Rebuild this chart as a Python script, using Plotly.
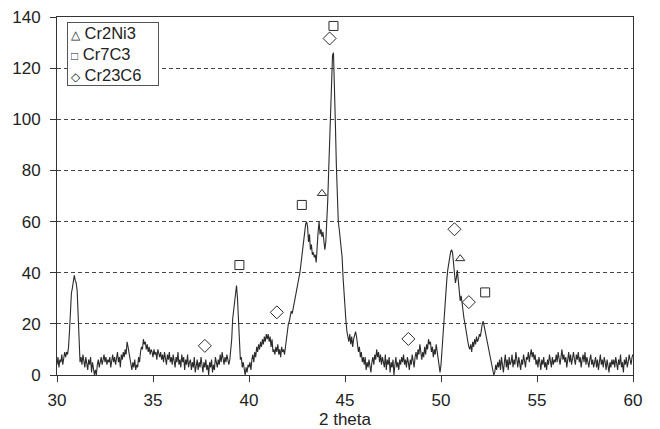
import numpy as np
import plotly.graph_objects as go

theta_start = 30.0
theta_step = 0.05
intensity_30 = [4, 7, 3, 6, 5, 8, 4, 6, 9, 7, 9, 8, 11, 17, 25, 32, 34, 36, 39, 37]
intensity_31 = [36, 33, 24, 12, 5, 7, 4, 8, 6, 3, 7, 5, 2, 6, 4, 7, 1, 5, 3, 0]
intensity_32 = [2, 0, 4, 6, 3, 5, 7, 4, 6, 8, 5, 7, 4, 6, 5, 7, 3, 6, 8, 5]
intensity_33 = [7, 4, 6, 9, 5, 7, 3, 8, 6, 9, 7, 10, 8, 13, 11, 9, 6, 4, 2, 5]
intensity_34 = [3, 6, 2, 4, 3, 7, 5, 9, 11, 10, 14, 12, 13, 10, 12, 9, 11, 8, 10, 9]
intensity_35 = [7, 10, 8, 9, 6, 10, 8, 7, 9, 6, 8, 5, 9, 7, 4, 8, 6, 9, 5, 7]
intensity_36 = [4, 8, 6, 3, 7, 5, 9, 4, 6, 3, 8, 5, 7, 2, 6, 4, 8, 3, 5, 6]
intensity_37 = [2, 5, 3, 7, 1, 4, 6, 2, 5, 3, 7, 4, 1, 5, 3, 6, 2, 4, 0, 5]
intensity_38 = [3, 6, 1, 4, 2, 7, 5, 3, 6, 4, 8, 5, 9, 6, 4, 7, 5, 8, 6, 4]
intensity_39 = [6, 9, 14, 22, 26, 29, 33, 35, 30, 22, 13, 6, 7, 3, 5, 1, 0, 3, 1, 4]
intensity_40 = [3, 5, 2, 6, 8, 5, 9, 7, 11, 9, 12, 10, 13, 11, 14, 12, 15, 13, 16, 14]
intensity_41 = [16, 13, 15, 11, 14, 9, 10, 8, 11, 9, 12, 8, 10, 7, 11, 9, 10, 8, 12, 15]
intensity_42 = [17, 20, 21, 23, 25, 24, 27, 28, 30, 32, 34, 35, 38, 40, 43, 46, 50, 54, 57, 59]
intensity_43 = [60, 58, 52, 55, 49, 51, 47, 48, 46, 47, 44, 52, 56, 60, 55, 57, 54, 56, 52, 49]
intensity_44 = [52, 58, 68, 80, 93, 106, 118, 125, 126, 115, 98, 82, 68, 60, 57, 54, 51, 46, 38, 31]
intensity_45 = [26, 21, 17, 15, 13, 16, 12, 15, 11, 14, 16, 17, 15, 12, 9, 11, 7, 9, 5, 7]
intensity_46 = [4, 7, 2, 5, 3, 6, 4, 1, 5, 7, 4, 8, 6, 10, 7, 9, 5, 8, 4, 7]
intensity_47 = [5, 3, 8, 2, 6, 4, 7, 1, 5, 3, 6, 0, 4, 7, 3, 5, 2, 6, 4, 7]
intensity_48 = [5, 8, 4, 6, 3, 7, 5, 2, 6, 4, 8, 5, 3, 7, 9, 6, 10, 8, 12, 9]
intensity_49 = [6, 9, 7, 11, 8, 12, 10, 14, 12, 13, 9, 11, 7, 10, 8, 12, 9, 5, 2, 1]
intensity_50 = [4, 10, 16, 22, 28, 33, 37, 41, 44, 46, 48, 49, 48, 44, 40, 36, 38, 41, 37, 32]
intensity_51 = [29, 31, 27, 25, 22, 20, 17, 16, 13, 11, 10, 12, 9, 13, 11, 14, 12, 15, 13, 14]
intensity_52 = [16, 15, 18, 20, 21, 19, 17, 16, 14, 12, 9, 7, 5, 3, 2, 0, 1, 4, 2, 5]
intensity_53 = [3, 6, 2, 7, 4, 1, 5, 8, 3, 6, 2, 7, 4, 5, 8, 3, 6, 4, 9, 5]
intensity_54 = [3, 7, 5, 2, 6, 4, 8, 5, 3, 7, 6, 9, 5, 8, 10, 7, 9, 6, 8, 4]
intensity_55 = [6, 3, 7, 5, 2, 6, 4, 7, 3, 5, 2, 6, 4, 8, 5, 3, 7, 4, 6, 5]
intensity_56 = [8, 5, 9, 6, 4, 7, 10, 6, 8, 5, 7, 3, 6, 9, 5, 8, 4, 7, 9, 6]
intensity_57 = [4, 8, 6, 9, 5, 7, 3, 6, 8, 5, 9, 4, 7, 5, 3, 6, 8, 4, 6, 3]
intensity_58 = [5, 7, 3, 6, 2, 5, 8, 4, 6, 3, 7, 5, 2, 6, 4, 1, 5, 3, 6, 4]
intensity_59 = [6, 3, 7, 5, 2, 6, 4, 8, 3, 5, 1, 6, 4, 7, 3, 5, 8, 6, 4, 7]
intensity_60 = [8]

# phase markers (2-theta, height)
phase_names = ["Cr2Ni3", "Cr7C3", "Cr23C6"]
phase_glyphs = ["\u25b3", "\u25a1", "\u25c7"]
cr2ni3_x = [43.8, 51.0]
cr2ni3_y = [71, 45.5]
cr7c3_x = [39.5, 42.75, 44.4, 52.3]
cr7c3_y = [43, 66.5, 136.5, 32.3]
cr23c6_x = [37.7, 41.45, 44.2, 48.3, 50.7, 51.45]
cr23c6_y = [11.4, 24.5, 131.6, 14.1, 57, 28.5]

x_ticks = [30, 35, 40, 45, 50, 55, 60]
y_ticks = [0, 20, 40, 60, 80, 100, 120, 140]

intensity = (intensity_30 + intensity_31 + intensity_32 + intensity_33 + intensity_34
             + intensity_35 + intensity_36 + intensity_37 + intensity_38 + intensity_39
             + intensity_40 + intensity_41 + intensity_42 + intensity_43 + intensity_44
             + intensity_45 + intensity_46 + intensity_47 + intensity_48 + intensity_49
             + intensity_50 + intensity_51 + intensity_52 + intensity_53 + intensity_54
             + intensity_55 + intensity_56 + intensity_57 + intensity_58 + intensity_59
             + intensity_60)
two_theta = np.round(theta_start + theta_step * np.arange(len(intensity)), 3)

ink = "#2b2b2b"
fig = go.Figure()
fig.add_trace(go.Scatter(x=two_theta, y=intensity, mode="lines",
                         line=dict(color=ink, width=1.1), showlegend=False, hoverinfo="skip"))
fig.add_trace(go.Scatter(x=cr2ni3_x, y=cr2ni3_y, mode="markers", name=phase_names[0],
                         showlegend=False,
                         marker=dict(symbol="triangle-up-open", size=8, color=ink,
                                     line=dict(width=1, color=ink))))
fig.add_trace(go.Scatter(x=cr7c3_x, y=cr7c3_y, mode="markers", name=phase_names[1],
                         showlegend=False,
                         marker=dict(symbol="square-open", size=9, color=ink,
                                     line=dict(width=1, color=ink))))
fig.add_trace(go.Scatter(x=cr23c6_x, y=cr23c6_y, mode="markers", name=phase_names[2],
                         showlegend=False,
                         marker=dict(symbol="diamond-open", size=10, color=ink,
                                     line=dict(width=1, color=ink))))

# legend box (text + symbol glyphs)
legend_text = "<br>".join(
    f'<span style="font-size:12px">{g}</span>&nbsp;{n}' for g, n in zip(phase_glyphs, phase_names)
)
fig.add_annotation(xref="paper", yref="paper", x=0.0174, y=0.986,
                   xanchor="left", yanchor="top", align="left", showarrow=False,
                   text=legend_text, font=dict(size=16.5, color="#222"),
                   width=84, height=56,
                   bgcolor="white", bordercolor="#555", borderwidth=1, borderpad=3)

fig.update_layout(
    width=660, height=429,
    margin=dict(l=57, r=27, t=17, b=54),
    paper_bgcolor="white", plot_bgcolor="white",
    font=dict(family="Liberation Sans, Arial, sans-serif", size=17, color="#222"),
    showlegend=False,
    xaxis=dict(range=[30, 60], tickvals=x_ticks, showgrid=False, zeroline=False,
               showline=True, linecolor="#333", linewidth=1, mirror=True,
               ticks="outside", ticklen=6, tickcolor="#333", ticklabelstandoff=4,
               tickfont=dict(size=17), automargin=False,
               title=dict(text="2 theta", font=dict(size=17), standoff=0)),
    yaxis=dict(range=[0, 140], tickvals=y_ticks, showgrid=True, gridcolor="#444",
               griddash="4px,3px", gridwidth=1, zeroline=False,
               showline=True, linecolor="#333", linewidth=1, mirror=True,
               ticks="outside", ticklen=6, tickcolor="#333", ticklabelstandoff=6,
               tickfont=dict(size=17), automargin=False),
)

fig.write_html("out.html", config={"displayModeBar": False},
               post_script="document.body.style.margin='0';")
